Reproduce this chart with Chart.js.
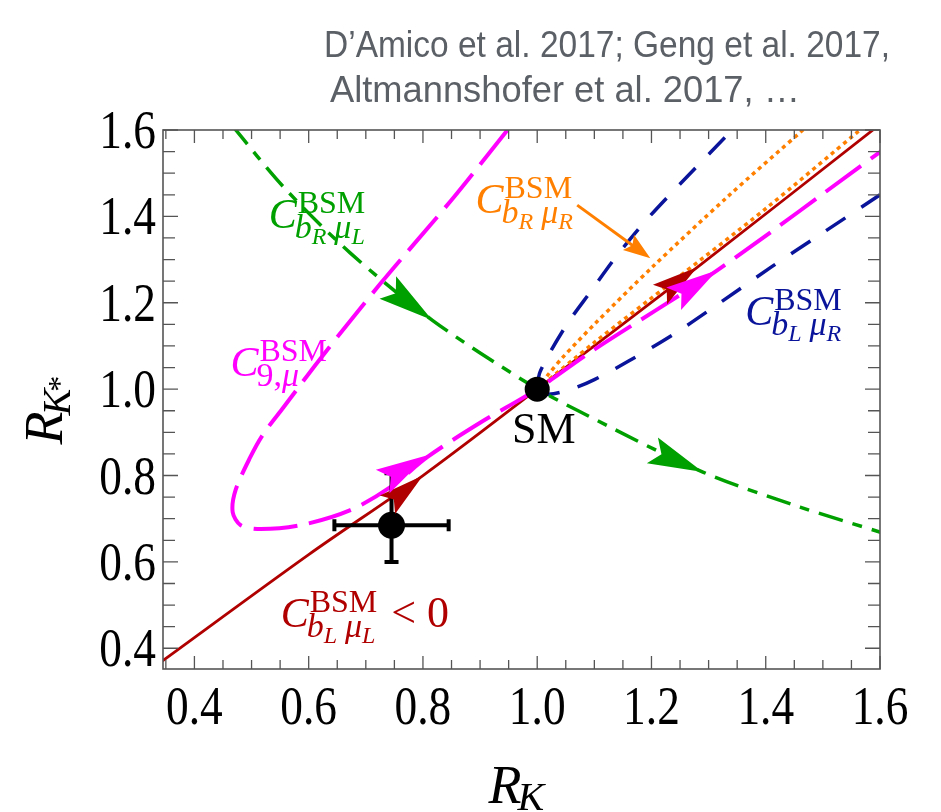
<!DOCTYPE html>
<html>
<head>
<meta charset="utf-8">
<script src="https://cdn.jsdelivr.net/npm/chart.js@4"></script>
<style>
  html, body { margin: 0; padding: 0; background: #fff; }
</style>
</head>
<body>
<canvas id="myChart" width="941" height="812"></canvas>
<script>
// [R_K, R_K*] pairs
var smPoint = [[1.0, 1.0]];
var lhcbPoint = [[0.745, 0.685]];
var lhcbErrX = [[0.1, 0.1]];      // minus, plus
var lhcbErrY = [[0.085, 0.12]];

var curveC9 = [[0.948, 1.6], [0.85, 1.438], [0.726, 1.245], [0.62, 1.07], [0.556, 0.958], [0.52, 0.895],
  [0.498, 0.843], [0.472, 0.766], [0.467, 0.715], [0.481, 0.685], [0.516, 0.676], [0.586, 0.685],
  [0.673, 0.72], [0.743, 0.773], [0.808, 0.843], [0.9, 0.922], [1.0, 1.0], [1.098, 1.09],
  [1.315, 1.275], [1.6, 1.549], [1.62, 1.566]];
var curveBLmuL = [[0.34, 0.367], [0.6, 0.617], [0.8, 0.8], [1.0, 1.0], [1.28, 1.282], [1.6, 1.613]];
var curveBRmuL = [[0.465, 1.612], [0.556, 1.468], [0.673, 1.315], [0.816, 1.16], [0.983, 1.014],
  [1.07, 0.951], [1.29, 0.808], [1.46, 0.727], [1.61, 0.665]];
var curveBLmuRUp = [[1.0, 1.0], [1.005, 1.04], [1.049, 1.144], [1.093, 1.225], [1.14, 1.31],
  [1.19, 1.39], [1.25, 1.475], [1.345, 1.605]];
var curveBLmuRLow = [[1.0, 0.995], [1.02, 0.988], [1.06, 1.0], [1.1, 1.022], [1.16, 1.065],
  [1.24, 1.128], [1.32, 1.2], [1.41, 1.283], [1.5, 1.362], [1.6, 1.45], [1.62, 1.468]];
var curveBRmuRSteep = [[1.0, 1.0], [1.02, 1.035], [1.045, 1.074], [1.1, 1.15], [1.201, 1.282],
  [1.332, 1.444], [1.465, 1.6], [1.475, 1.612]];
var curveBRmuRNear = [[1.0, 1.0], [1.1, 1.108], [1.238, 1.25], [1.4, 1.418], [1.565, 1.6]];

// arrowheads: [point behind the tip, tip]
var arrowsBLmuL = [[[0.745, 0.74], [0.8, 0.8]], [[1.222, 1.226], [1.28, 1.282]]];
var arrowsC9 = [[[0.737, 0.792], [0.808, 0.847]], [[1.241, 1.211], [1.315, 1.275]]];
var arrowsBRmuL = [[[0.737, 1.237], [0.816, 1.16]], [[1.211, 0.853], [1.29, 0.808]]];
var pointerBRmuR = [[1.07, 1.426], [1.198, 1.303]];

var xTickLabels = [0.4, 0.6, 0.8, 1.0, 1.2, 1.4, 1.6];
var yTickLabels = [0.4, 0.6, 0.8, 1.0, 1.2, 1.4, 1.6];

var titleLines = ['D\u2019Amico et al. 2017; Geng et al. 2017,', 'Altmannshofer et al. 2017, \u2026'];

var GREEN = '#00a000', MAGENTA = '#ff00ff', RED = '#b00000', BLUE = '#0a149b', ORANGE = '#ff8000';
var SERIF = '"Liberation Serif", "DejaVu Serif", serif';

function pts(arr) {
  return arr.map(function (p) { return { x: p[0], y: p[1] }; });
}

function curve(data, color, width, dash) {
  return {
    data: pts(data), showLine: true, pointRadius: 0, borderColor: color,
    borderWidth: width, borderDash: dash, tension: 0.3, fill: false
  };
}

// coefficient labels anchored at the baseline of the "C"
var coefLabels = [
  { at: [0.530, 1.373], color: GREEN, sub: [{ t: 'b' }, { t: 'R', s: 1 }, { t: '\u03bc', gap: 8 }, { t: 'L', s: 1 }] },
  { at: [0.463, 1.030], color: MAGENTA, sub: [{ t: '9,', up: 1 }, { t: '\u03bc' }] },
  { at: [0.892, 1.407], color: ORANGE, sub: [{ t: 'b' }, { t: 'R', s: 1 }, { t: '\u03bc', gap: 8 }, { t: 'R', s: 1 }] },
  { at: [1.364, 1.148], color: BLUE, sub: [{ t: 'b' }, { t: 'L', s: 1 }, { t: '\u03bc', gap: 8 }, { t: 'R', s: 1 }] },
  { at: [0.551, 0.449], color: RED, sub: [{ t: 'b' }, { t: 'L', s: 1 }, { t: '\u03bc', gap: 8 }, { t: 'L', s: 1 }], tail: '< 0' }
];

function toPx(chart, p) {
  return { x: chart.scales.x.getPixelForValue(p[0]), y: chart.scales.y.getPixelForValue(p[1]) };
}

function arrowHead(ctx, from, tip, len, half, color) {
  var a = Math.atan2(tip.y - from.y, tip.x - from.x);
  ctx.save();
  ctx.translate(tip.x, tip.y);
  ctx.rotate(a);
  ctx.beginPath();
  ctx.moveTo(0, 0);
  ctx.lineTo(-len, -half);
  ctx.lineTo(-len * 0.82, 0);
  ctx.lineTo(-len, half);
  ctx.closePath();
  ctx.fillStyle = color;
  ctx.fill();
  ctx.restore();
}

function drawCoef(ctx, x, y, lab) {
  ctx.fillStyle = lab.color;
  ctx.textAlign = 'left';
  ctx.textBaseline = 'alphabetic';
  ctx.font = 'italic 42px ' + SERIF;
  ctx.fillText('C', x, y);
  var cw = ctx.measureText('C').width;
  ctx.font = '32px ' + SERIF;
  ctx.fillText('BSM', x + cw + 1, y - 15);
  var end = x + cw + 1 + ctx.measureText('BSM').width;
  var sx = x + cw - 2;
  lab.sub.forEach(function (s) {
    sx += s.gap || 0;
    ctx.font = (s.up ? '' : 'italic ') + (s.s ? 24 : 34) + 'px ' + SERIF;
    ctx.fillText(s.t, sx, y + (s.s ? 16 : 10));
    sx += ctx.measureText(s.t).width;
  });
  end = Math.max(end, sx);
  if (lab.tail) {
    ctx.font = '44px ' + SERIF;
    ctx.fillText(lab.tail, end + 14, y);
  }
}

// condensed serif numbers for the frame labels
function tickText(ctx, text, x, y, align) {
  ctx.save();
  ctx.translate(x, y);
  ctx.scale(0.84, 1);
  ctx.textAlign = align;
  ctx.textBaseline = 'alphabetic';
  ctx.fillText(text, 0, 0);
  ctx.restore();
}

var decor = {
  id: 'decor',
  beforeDatasetDraw: function (chart, args) {
    if (args.index !== 1) return;
    var ctx = chart.ctx;
    ctx.save();
    ctx.strokeStyle = '#000';
    ctx.lineWidth = 4;
    lhcbPoint.forEach(function (p, i) {
      var c = toPx(chart, p);
      var l = toPx(chart, [p[0] - lhcbErrX[i][0], p[1]]);
      var r = toPx(chart, [p[0] + lhcbErrX[i][1], p[1]]);
      var b = toPx(chart, [p[0], p[1] - lhcbErrY[i][0]]);
      var t = toPx(chart, [p[0], p[1] + lhcbErrY[i][1]]);
      ctx.beginPath();
      ctx.moveTo(l.x, c.y); ctx.lineTo(r.x, c.y);
      ctx.moveTo(c.x, b.y); ctx.lineTo(c.x, t.y);
      ctx.moveTo(l.x, c.y - 6); ctx.lineTo(l.x, c.y + 6);
      ctx.moveTo(r.x, c.y - 6); ctx.lineTo(r.x, c.y + 6);
      ctx.moveTo(c.x - 7, b.y); ctx.lineTo(c.x + 7, b.y);
      ctx.moveTo(c.x - 7, t.y); ctx.lineTo(c.x + 7, t.y);
      ctx.stroke();
    });
    ctx.restore();
  },
  afterDatasetsDraw: function (chart) {
    var ctx = chart.ctx;
    arrowsBRmuL.forEach(function (a) { arrowHead(ctx, toPx(chart, a[0]), toPx(chart, a[1]), 55, 14, GREEN); });
    arrowsBLmuL.forEach(function (a) { arrowHead(ctx, toPx(chart, a[0]), toPx(chart, a[1]), 46, 12, RED); });
    arrowsC9.forEach(function (a) { arrowHead(ctx, toPx(chart, a[0]), toPx(chart, a[1]), 52, 13.5, MAGENTA); });

    // pointer from the right-handed label to its curve
    var p0 = toPx(chart, pointerBRmuR[0]), p1 = toPx(chart, pointerBRmuR[1]);
    var ang = Math.atan2(p1.y - p0.y, p1.x - p0.x);
    ctx.save();
    ctx.strokeStyle = ORANGE;
    ctx.lineWidth = 3;
    ctx.beginPath();
    ctx.moveTo(p0.x, p0.y);
    ctx.lineTo(p1.x - 18 * Math.cos(ang), p1.y - 18 * Math.sin(ang));
    ctx.stroke();
    ctx.restore();
    arrowHead(ctx, p0, p1, 27, 9.5, ORANGE);
  },
  afterDraw: function (chart) {
    var ctx = chart.ctx, a = chart.chartArea;
    var xs = chart.scales.x, ys = chart.scales.y;
    ctx.save();

    // frame with inward ticks on all four sides
    ctx.strokeStyle = '#555';
    ctx.lineWidth = 1.6;
    ctx.strokeRect(a.left, a.top, a.right - a.left, a.bottom - a.top);
    ctx.lineWidth = 1.3;
    ctx.beginPath();
    var step = 0.05, v, k, major, p, len;
    for (k = Math.ceil(xs.min / step - 1e-9); k * step <= xs.max + 1e-9; k++) {
      v = k * step;
      major = k % 4 === 0;
      p = xs.getPixelForValue(v);
      len = major ? 13 : 9;
      ctx.moveTo(p, a.bottom); ctx.lineTo(p, a.bottom - len);
      ctx.moveTo(p, a.top); ctx.lineTo(p, a.top + len);
    }
    for (k = Math.ceil(ys.min / step - 1e-9); k * step <= ys.max + 1e-9; k++) {
      v = k * step;
      major = k % 4 === 0;
      p = ys.getPixelForValue(v);
      len = major ? 15 : 12;
      ctx.moveTo(a.left, p); ctx.lineTo(a.left + len, p);
      ctx.moveTo(a.right, p); ctx.lineTo(a.right - len, p);
    }
    ctx.stroke();

    // tick labels
    ctx.fillStyle = '#000';
    ctx.font = '54px ' + SERIF;
    xs.ticks.forEach(function (t) {
      tickText(ctx, Number(t.value).toFixed(1), xs.getPixelForValue(t.value), a.bottom + 55, 'center');
    });
    ys.ticks.forEach(function (t) {
      tickText(ctx, Number(t.value).toFixed(1), a.left - 7, ys.getPixelForValue(t.value) + 18, 'right');
    });

    // curve labels
    coefLabels.forEach(function (lab) {
      var q = toPx(chart, lab.at);
      drawCoef(ctx, q.x, q.y, lab);
    });
    var sm = toPx(chart, [0.956, 0.875]);
    ctx.fillStyle = '#000';
    ctx.font = '44px ' + SERIF;
    ctx.textAlign = 'left';
    ctx.fillText('SM', sm.x, sm.y);

    // axis titles
    ctx.font = 'italic 54px ' + SERIF;
    var rx = (a.left + a.right) / 2 - 33;
    ctx.fillText('R', rx, 803);
    var rw = ctx.measureText('R').width;
    ctx.font = 'italic 40px ' + SERIF;
    ctx.fillText('K', rx + rw - 4, 810);

    ctx.save();
    ctx.translate(62, (a.top + a.bottom) / 2 + 45);
    ctx.rotate(-Math.PI / 2);
    ctx.font = 'italic 54px ' + SERIF;
    ctx.fillText('R', 0, 0);
    rw = ctx.measureText('R').width;
    ctx.font = 'italic 40px ' + SERIF;
    ctx.fillText('K', rw - 4, 8);
    var kw = ctx.measureText('K').width;
    ctx.font = '32px ' + SERIF;
    ctx.fillText('*', rw + kw - 7, 8);
    ctx.restore();

    // citation heading
    ctx.fillStyle = '#5b5f66';
    ctx.font = '37px "Liberation Sans", Arial, sans-serif';
    var headX = [324, 330], headW = [566, 470], headY = [57, 102];
    titleLines.forEach(function (line, i) {
      var w = ctx.measureText(line).width;
      ctx.save();
      ctx.translate(headX[i], headY[i]);
      ctx.scale(headW[i] / w, 1);
      ctx.textAlign = 'left';
      ctx.fillText(line, 0, 0);
      ctx.restore();
    });
    ctx.restore();
  }
};

var ctx = document.getElementById('myChart').getContext('2d');
var myChart = new Chart(ctx, {
  type: 'scatter',
  data: {
    datasets: [
      { label: 'SM', data: pts(smPoint), pointRadius: 12.5, pointBackgroundColor: '#000', pointBorderWidth: 0 },
      { label: 'LHCb', data: pts(lhcbPoint), pointRadius: 13.5, pointBackgroundColor: '#000', pointBorderWidth: 0 },
      curve(curveC9, MAGENTA, 4, [44, 12]),
      curve(curveBRmuRNear, ORANGE, 3.5, [4, 4]),
      curve(curveBRmuRSteep, ORANGE, 3.5, [4, 4]),
      curve(curveBLmuL, RED, 2.8, []),
      curve(curveBRmuL, GREEN, 3.5, [25, 10, 10, 10]),
      curve(curveBLmuRUp, BLUE, 3.5, [23, 19]),
      curve(curveBLmuRLow, BLUE, 3.5, [23, 19])
    ]
  },
  plugins: [decor],
  options: {
    responsive: false,
    animation: false,
    devicePixelRatio: 1,
    layout: { padding: { top: 130, right: 61, left: 0, bottom: 0 } },
    plugins: {
      legend: { display: false },
      tooltip: { enabled: false }
    },
    scales: {
      x: {
        type: 'linear',
        min: 0.345,
        max: 1.6,
        grid: { display: false },
        border: { display: false },
        afterBuildTicks: function (axis) { axis.ticks = xTickLabels.map(function (v) { return { value: v }; }); },
        afterFit: function (axis) { axis.height = 143; },
        ticks: { display: false }
      },
      y: {
        type: 'linear',
        min: 0.352,
        max: 1.6,
        grid: { display: false },
        border: { display: false },
        afterBuildTicks: function (axis) { axis.ticks = yTickLabels.map(function (v) { return { value: v }; }); },
        afterFit: function (axis) { axis.width = 163; },
        ticks: { display: false }
      }
    }
  }
});
</script>
</body>
</html>
